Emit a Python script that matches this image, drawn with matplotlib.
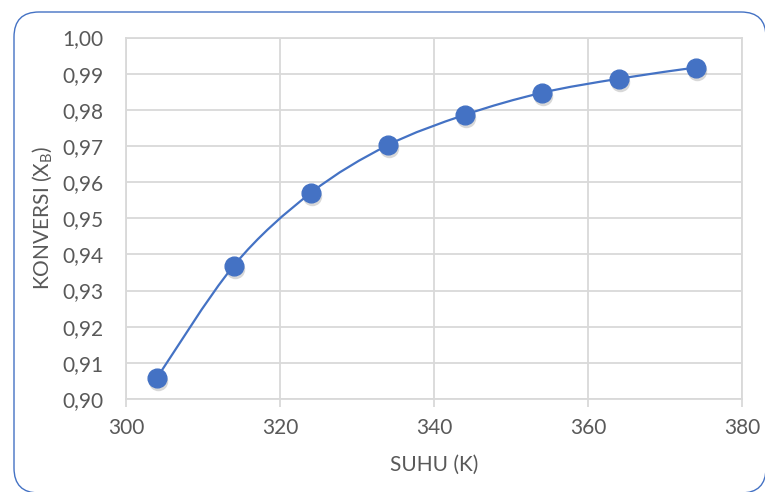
import numpy as np
import matplotlib
matplotlib.use("Agg")
import matplotlib.pyplot as plt
from matplotlib.path import Path
from matplotlib.patches import PathPatch, FancyBboxPatch
from matplotlib.ticker import FuncFormatter, MultipleLocator
from matplotlib.transforms import offset_copy

# data
suhu = [304, 314, 324, 334, 344, 354, 364, 374]
konversi = [0.9058, 0.9369, 0.9570, 0.9702, 0.9786, 0.9847, 0.9886, 0.9917]

blue = "#4472C4"
grid_col = "#D9D9D9"
text_col = "#595959"

plt.rcParams["font.family"] = ["Lato", "DejaVu Sans"]
plt.rcParams["mathtext.default"] = "regular"

fig = plt.figure(figsize=(7.65, 4.92), dpi=100)
ax = fig.add_axes([126 / 765, 1 - 399 / 492, 616 / 765, 361.5 / 492])

# smooth line like excel (bezier through the points)
pts = np.column_stack([suhu, konversi])
n = len(pts)
verts = [pts[0]]
codes = [Path.MOVETO]
for i in range(n - 1):
    p0 = pts[max(i - 1, 0)]
    p1 = pts[i]
    p2 = pts[i + 1]
    p3 = pts[min(i + 2, n - 1)]
    c1 = p1 + (p2 - p0) / 6
    c2 = p2 - (p3 - p1) / 6
    verts += [c1, c2, p2]
    codes += [Path.CURVE4] * 3
ax.add_patch(PathPatch(Path(verts, codes), facecolor="none", edgecolor=blue, lw=1.6, zorder=3))

# marker shadow + markers
shadow = offset_copy(ax.transData, fig=fig, x=1.5, y=-3, units="dots")
ax.plot(suhu, konversi, "o", ms=14, color="#7f7f7f", alpha=0.3, mec="none", transform=shadow, zorder=4)
ax.plot(suhu, konversi, "o", ms=13.5, color=blue, mec=blue, zorder=5)

ax.set_xlim(300, 380)
ax.set_ylim(0.90, 1.00)
ax.xaxis.set_major_locator(MultipleLocator(20))
ax.yaxis.set_major_locator(MultipleLocator(0.01))
ax.yaxis.set_major_formatter(FuncFormatter(lambda v, p: f"{v:.2f}".replace(".", ",")))

ax.grid(True, color=grid_col, lw=1.3)
ax.set_axisbelow(True)
for s in ax.spines.values():
    s.set_color(grid_col)
    s.set_linewidth(1.3)
ax.tick_params(axis="x", length=6, width=1.3, color=grid_col, labelsize=15, labelcolor=text_col, pad=8)
ax.tick_params(axis="y", length=0, labelsize=15, labelcolor=text_col, pad=16)

ax.set_xlabel("SUHU (K)", fontsize=15, color=text_col, labelpad=12)
ax.set_ylabel("KONVERSI (X$_B$)", fontsize=15, color=text_col, labelpad=6)

border = FancyBboxPatch((0.14, -0.01), 7.52, 4.81, boxstyle="round,pad=0,rounding_size=0.25",
                        transform=fig.dpi_scale_trans, facecolor="none", edgecolor=blue, lw=1.0, clip_on=False)
fig.add_artist(border)

fig.savefig("out.png", dpi=100)
